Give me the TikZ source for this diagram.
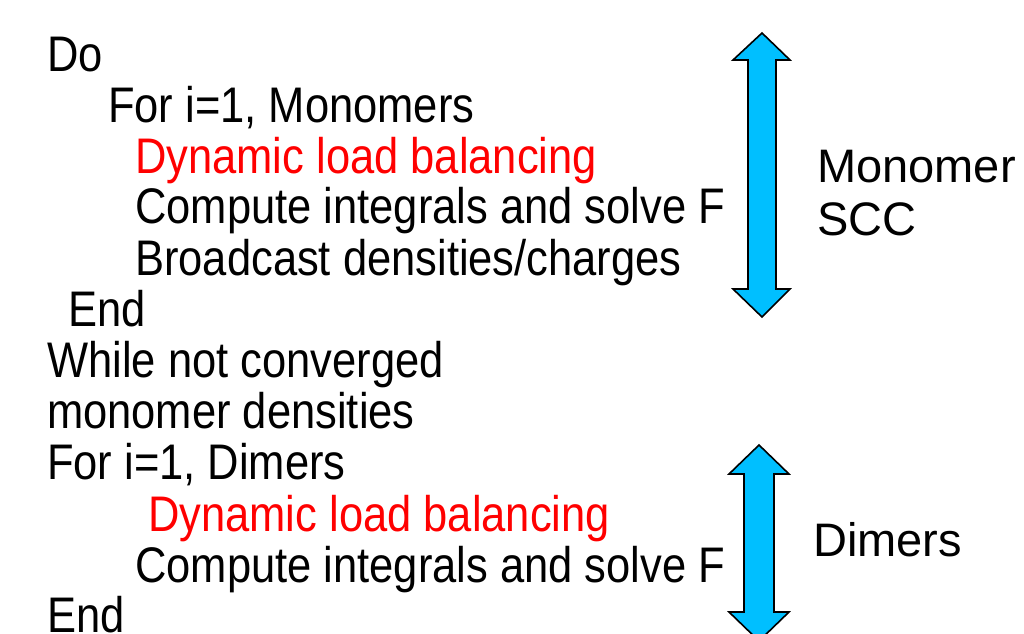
\documentclass[tikz,border=0pt]{standalone}
\usepackage{fontspec}
\setmainfont{Liberation Sans}
\newfontfamily\codefont[FakeStretch=0.87]{Liberation Sans}
\definecolor{skyarrow}{RGB}{0,191,255}
\tikzset{
  code/.style={anchor=base west,inner sep=0pt,font=\codefont\fontsize{50}{60}\selectfont},
  hot/.style={code,text=red},
  side/.style={anchor=base west,inner sep=0pt,font=\fontsize{47}{56}\selectfont},
  bigarrow/.style={draw=black,line width=1.6pt,fill=skyarrow,line join=miter}
}
\begin{document}
\begin{tikzpicture}[x=1pt,y=-1pt]
		\useasboundingbox (0,0) rectangle (1024,633);
		% loop over monomers
		\node[code] (do) at (47,71) {Do};
		\node[code] (formono) at (108,122) {For i=1, Monomers};
		\node[hot] (dlb1) at (135,173) {Dynamic load balancing};
		\node[code] (comp1) at (135,223) {Compute integrals and solve F};
		\node[code] (bcast) at (135,275) {Broadcast densities/charges};
		\node[code] (end1) at (68,326) {End};
		\node[code] (while) at (47,377) {While not converged};
		\node[code] (mdens) at (47,428) {monomer densities};
		% loop over dimers
		\node[code] (fordim) at (47,479) {For i=1, Dimers};
		\node[hot] (dlb2) at (148,531) {Dynamic load balancing};
		\node[code] (comp2) at (135,582) {Compute integrals and solve F};
		\node[code] (end2) at (47,632) {End};
		% double arrows
		\draw[bigarrow] (762,33)--(790,60)--(776,60)--(776,289)--(790,289)--(762,317)
		--(733,289)--(748,289)--(748,60)--(733,60)--cycle;
		\draw[bigarrow] (759,445)--(789,474)--(774,474)--(774,612)--(789,612)--(759,641)
		--(729,612)--(744,612)--(744,474)--(729,474)--cycle;
		\node[side] (scc1) at (817,182) {Monomer};
		\node[side] (scc2) at (817,235) {SCC};
		\node[side] (dim) at (813,556) {Dimers};
		\end{tikzpicture}
\end{document}
